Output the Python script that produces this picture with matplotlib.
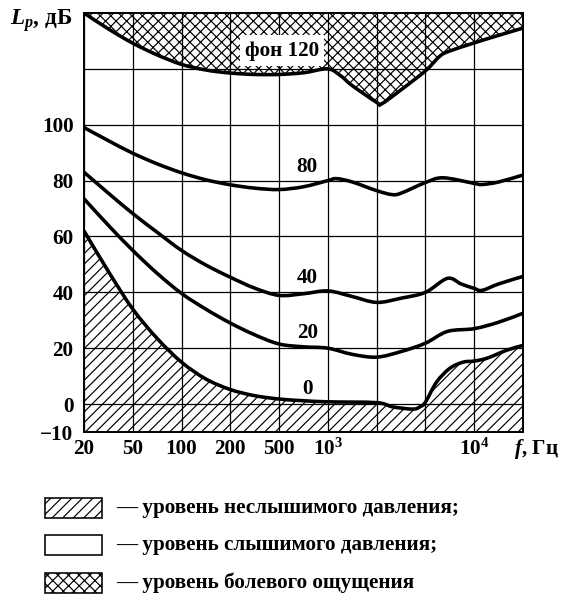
import numpy as np
import matplotlib
matplotlib.use('Agg')
from matplotlib import pyplot as plt
from matplotlib.patches import Rectangle, PathPatch
from matplotlib.path import Path

plt.rcParams['font.family'] = 'Liberation Serif'
plt.rcParams['font.weight'] = 'bold'
plt.rcParams['mathtext.fontset'] = 'custom'
plt.rcParams['mathtext.rm'] = 'Liberation Serif:bold'
plt.rcParams['mathtext.bf'] = 'Liberation Serif:bold'
plt.rcParams['mathtext.it'] = 'Liberation Serif:italic:bold'
plt.rcParams['hatch.linewidth'] = 0.9

DPI = 95

#--- frequency grid (equally spaced on the axis) ---
grid_f = [20, 50, 100, 200, 500, 1000, 2000, 5000, 10000, 20000]
grid_labels = ['20', '50', '100', '200', '500', '$10^3$', '', '', '$10^4$', '']

#--- equal loudness contours, Lp in dB ---
f_pain = [20, 31.6, 50, 70.7, 100, 141, 200, 316, 500, 707, 1000, 1200, 1414, 2000, 2200,
          3162, 5000, 6150, 7071, 10000, 14142, 20000]
L_pain = [140, 134.3, 129.2, 125, 121.6, 119.6, 118.5, 118, 118, 118.6, 120, 117.5, 114,
          108, 107.5, 112.5, 119.3, 124.6, 126.4, 129.3, 132, 134.6]

f_80 = [20, 31.6, 50, 70.7, 100, 141, 200, 316, 500, 707, 1000, 1130, 1414, 2000, 2660, 3162,
        5000, 6420, 10000, 11170, 14142, 20000]
L_80 = [99, 94.3, 89.8, 86, 82.8, 80.3, 78.5, 77.3, 76.8, 77.8, 80, 80.7, 79.5, 76.4, 75, 75.5,
        79.3, 81, 79, 78.6, 79.5, 82]

f_40 = [20, 31.6, 50, 70.7, 100, 141, 200, 316, 500, 707, 1000, 1414, 2000, 3162, 5000, 6830,
        8300, 10000, 11170, 14142, 20000]
L_40 = [83, 75.5, 68.2, 61.5, 55, 49.8, 45.4, 41.5, 38.9, 39.5, 40.5, 38.5, 36.4, 37.9, 40, 45,
        43, 41.4, 40.7, 43, 45.7]

f_20 = [20, 31.6, 50, 70.7, 100, 141, 200, 316, 500, 707, 1000, 1414, 2000, 3162, 5000, 6830,
        10000, 14142, 20000]
L_20 = [73.5, 64, 55, 46.8, 39.6, 34, 29, 24.8, 21.5, 20.5, 20, 17.8, 16.8, 18.8, 21.8, 26,
        27, 29.3, 32.5]

f_0 = [20, 31.6, 50, 70.7, 100, 141, 200, 316, 500, 707, 1000, 2000, 2700, 3940, 4500, 5000,
       5860, 7071, 8530, 10000, 11970, 15900, 20000]
L_0 = [62, 47.5, 34, 23.5, 15, 9, 5.2, 3, 1.8, 1.2, 0.8, 0.5, -1, -1.8, -1, 0.7, 7.9, 12.8,
       15, 15.4, 16.4, 19.3, 21]

# curve labels: (text, frequency, level)
curve_labels = [('80', 745, 85), ('40', 745, 45), ('20', 745, 25.4), ('0', 750, 5.4)]
pain_label = ('фон 120', 521, 126.5)

y_ticks = [-10, 0, 20, 40, 60, 80, 100, 120]
y_labels = ['\u221210', '0', '20', '40', '60', '80', '100', '']

legend_items = [('///', '\u2014 уровень неслышимого давления;'),
                ('', '\u2014 уровень слышимого давления;'),
                ('xxx', '\u2014 уровень болевого ощущения')]

#--- axis that spaces the grid frequencies evenly ---
lg = np.log10(grid_f)
idx = np.arange(len(grid_f))


def fwd(f):
    return np.interp(np.log10(np.clip(np.asarray(f, dtype=float), 1e-6, None)), lg, idx)


def inv(x):
    return 10 ** np.interp(np.asarray(x, dtype=float), idx, lg)


def smooth_path(f, L):
    # Catmull-Rom through the points, written as cubic Bezier segments in axis units
    p = np.column_stack([fwd(f), L])
    ext = np.vstack([p[0], p, p[-1]])
    verts = [p[0]]
    codes = [Path.MOVETO]
    for i in range(len(p) - 1):
        p0, p1, p2, p3 = ext[i], ext[i + 1], ext[i + 2], ext[i + 3]
        verts += [p1 + (p2 - p0) / 6, p2 - (p3 - p1) / 6, p2]
        codes += [Path.CURVE4] * 3
    return np.array(verts), codes


def band_path(f, L, y_edge):
    verts, codes = smooth_path(f, L)
    x0, x1 = verts[0][0], verts[-1][0]
    verts = np.vstack([verts, [[x1, y_edge], [x0, y_edge], [x0, y_edge]]])
    codes = codes + [Path.LINETO, Path.LINETO, Path.CLOSEPOLY]
    return Path(verts, codes)


fig = plt.figure(figsize=(561 / DPI, 600 / DPI), dpi=DPI)
ax = fig.add_axes([84 / 561, 1 - 432 / 600, 439 / 561, 419 / 600])
ax.set_xscale('function', functions=(fwd, inv))
ax.set_xlim(20, 20000)
ax.set_ylim(-10, 140)
scaled = ax.transLimits + ax.transAxes

# hatched regions: below the threshold of hearing, above the threshold of pain
ax.add_patch(PathPatch(band_path(f_0, L_0, -10), transform=scaled, facecolor='none',
                       edgecolor='black', hatch='///', linewidth=0, zorder=1))
ax.add_patch(PathPatch(band_path(f_pain, L_pain, 140), transform=scaled, facecolor='none',
                       edgecolor='black', hatch='xxx', linewidth=0, zorder=1))

for f, L in [(f_pain, L_pain), (f_80, L_80), (f_40, L_40), (f_20, L_20), (f_0, L_0)]:
    v, c = smooth_path(f, L)
    ax.add_patch(PathPatch(Path(v, c), transform=scaled, fill=False, edgecolor='black',
                           linewidth=2.7, capstyle='butt', zorder=3))

for txt, f, L in curve_labels:
    ax.text(f, L, txt, ha='center', va='center', fontsize=16, zorder=4)
ax.text(pain_label[1], pain_label[2], pain_label[0], ha='center', va='center', fontsize=16,
        zorder=4, bbox=dict(facecolor='white', edgecolor='none', pad=4))

ax.set_xticks(grid_f)
ax.set_xticklabels(grid_labels)
ax.set_yticks(y_ticks)
ax.set_yticklabels(y_labels)
ax.tick_params(axis='both', length=0, labelsize=16)
ax.tick_params(axis='x', pad=5)
ax.tick_params(axis='y', pad=8)
ax.grid(True, color='black', linewidth=0.95)
for sp in ax.spines.values():
    sp.set_linewidth(1.5)

fig.text(72 / 561, 1 - 21 / 600, '$L_p$, дБ', ha='right', va='center', fontsize=17.5)
fig.text(559 / 561, 1 - 449 / 600, '$f$, Гц', ha='right', va='center', fontsize=16)

# legend boxes
rows_y = [508, 545, 583]
for (h, txt), yc in zip(legend_items, rows_y):
    fig.patches.append(Rectangle((45 / 561, 1 - (yc + 10) / 600), 57 / 561, 20 / 600,
                                 transform=fig.transFigure, facecolor='white', edgecolor='black',
                                 hatch=h, linewidth=1.2))
    fig.text(116 / 561, 1 - yc / 600, txt, ha='left', va='center', fontsize=16)

plt.savefig('out.png', dpi=DPI)
